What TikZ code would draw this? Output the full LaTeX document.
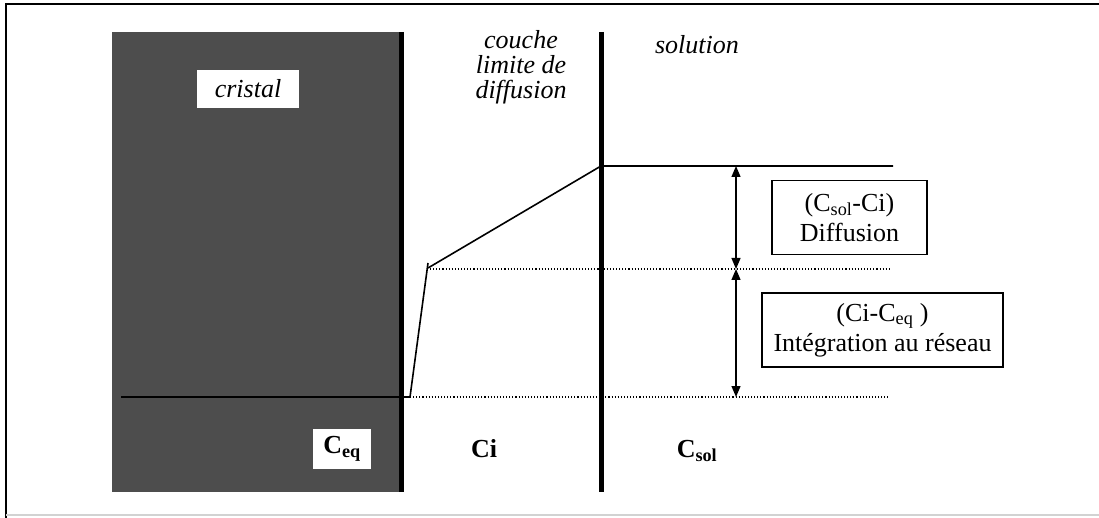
\documentclass[tikz,border=0pt]{standalone}
\usepackage{fontspec}
\setmainfont{Liberation Serif}
\usetikzlibrary{arrows.meta}

\definecolor{cristalgris}{HTML}{4D4D4D}
\newcommand{\grand}{\fontsize{26}{25}\selectfont}
\newcommand{\grandaere}{\fontsize{26}{30}\selectfont}

\tikzset{
    wall/.style={line width=5pt},
    level/.style={line width=1.6pt},
    guide/.style={dotted, line width=1.1pt},
    zone/.style={font=\grand\itshape, align=center},
    conc/.style={font=\grand\bfseries},
    tag/.style={fill=white, inner sep=0pt},
    bilan/.style={draw, line width=1.3pt, font=\grandaere, align=center},
    gap/.style={{Triangle[length=11pt,width=9pt]}-{Triangle[length=11pt,width=9pt]}, line width=1.3pt}
    }

\begin{document}
\begin{tikzpicture}[x=1pt, y=-1pt]
                \useasboundingbox (0,0) rectangle (1099,518);
                % The frame
                \draw[line width=2.5pt] (6,518) -- (6,4) -- (1099,4);
                \draw[gray!35, line width=1.5pt] (6,515) -- (1099,515);
                % The crystal
                \fill[cristalgris] (112,32) rectangle (400,492);
                % The levels
                \coordinate (ceqL) at (121,397);
                \coordinate (ceqK) at (410,397);
                \coordinate (ceqR) at (888,397);
                \coordinate (ciK) at (428,263);
                \coordinate (ciJ) at (428,268);
                \coordinate (ciL) at (430,269);
                \coordinate (ciR) at (890,269);
                \coordinate (csolL) at (601,166);
                \coordinate (csolR) at (893,166);
                \draw[level] (ceqL) -- (ceqK) -- (ciK);
                \draw[level] (ciJ) -- (csolL) -- (csolR);
                \draw[guide] (ceqK) -- (ceqR);
                \draw[guide] (ciL) -- (ciR);
                % The walls
                \draw[wall] (401,32) -- (401,492);
                \draw[wall] (601,32) -- (601,492);
                % The zones
                \node(cristal)[zone, tag, minimum width=102, minimum height=38] at (248,89) {cristal};
                \node(couche)[zone] at (521,67) {couche\\limite de\\diffusion};
                \node(solution)[zone] at (697,45) {solution};
                \node(ceq)[conc, tag, minimum width=58, minimum height=40] at (342,449) {C\textsubscript{eq}};
                \node(ci)[conc] at (484,449) {Ci};
                \node(csol)[conc] at (697,451) {C\textsubscript{sol}};
                % The gaps
                \coordinate (gtop) at (736,166);
                \coordinate (gmid) at (736,269);
                \coordinate (gbot) at (736,397);
                \draw[gap] (gtop) -- (gmid);
                \draw[gap] (gmid) -- (gbot);
                \node(diff)[bilan, minimum width=155, minimum height=74] at (849.5,217.5) {(C\textsubscript{sol}-Ci)\\Diffusion};
                \node(integ)[bilan, minimum width=241, minimum height=74] at (882.5,330) {(Ci-C\textsubscript{eq} )\\Intégration au réseau};
            \end{tikzpicture}
\end{document}
